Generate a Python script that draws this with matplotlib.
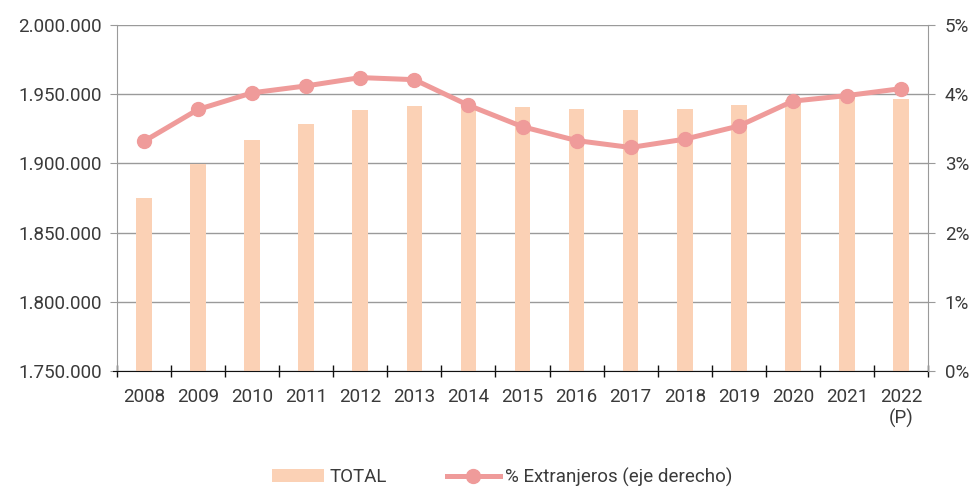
import matplotlib
matplotlib.use("Agg")
import matplotlib.pyplot as plt
from matplotlib.ticker import FuncFormatter, MultipleLocator, FixedLocator

years = ["2008", "2009", "2010", "2011", "2012", "2013", "2014", "2015",
         "2016", "2017", "2018", "2019", "2020", "2021", "2022\n(P)"]
total = [1874900, 1899300, 1916700, 1928500, 1938400, 1941800, 1941500, 1940800,
         1939100, 1938900, 1939300, 1942000, 1945700, 1948600, 1946400]
pct_extranjeros = [3.32, 3.78, 4.02, 4.12, 4.24, 4.21, 3.84, 3.53,
                   3.33, 3.23, 3.35, 3.54, 3.90, 3.98, 4.08]

plt.rcParams['font.family'] = ['Roboto', 'DejaVu Sans']
plt.rcParams['font.weight'] = 'normal'
text_color = "#3a3a3a"
grid_color = "#9a9a9a"
bar_color = "#FBD1B5"
line_color = "#EF9B9A"
fs = 13.5

fig = plt.figure(figsize=(9.75, 4.87), dpi=100)
ax = fig.add_axes([117/975, 1 - 371/487, (928-117)/975, (371-25)/487])
x = list(range(len(years)))
ax.bar(x, total, width=0.29, color=bar_color, zorder=2, label="TOTAL")
ax.set_ylim(1750000, 2000000)
ax.set_xlim(-0.5, len(years) - 0.5)
ax.yaxis.set_major_locator(MultipleLocator(50000))
ax.yaxis.set_major_formatter(FuncFormatter(lambda v, p: f"{int(v):,}".replace(",", ".")))
ax.grid(axis="y", color=grid_color, linewidth=1.0, zorder=0)
ax.set_axisbelow(True)
ax.set_xticks(x)
ax.set_xticklabels(years)
ax.xaxis.set_minor_locator(FixedLocator([i - 0.5 for i in range(len(years) + 1)]))
ax.spines["top"].set_visible(False)
ax.spines["right"].set_visible(False)
ax.spines["left"].set_color(grid_color)
ax.spines["bottom"].set_color("#111111")
ax.spines["bottom"].set_bounds(-0.58, len(years) - 0.5)
ax.spines["bottom"].set_zorder(5)
ax.tick_params(axis="y", color=grid_color, length=5, pad=6, labelcolor=text_color, labelsize=fs)
ax.tick_params(axis="x", which="major", length=0, labelcolor=text_color, labelsize=fs, pad=12)
ax.tick_params(axis="x", which="minor", length=8.5, direction="inout", color="#111111", width=1)

ax2 = ax.twinx()
ax2.plot(x, pct_extranjeros, color=line_color, linewidth=3.6, marker="o",
         markersize=10, zorder=3, label="% Extranjeros (eje derecho)")
ax2.set_ylim(0, 5)
ax2.yaxis.set_major_locator(MultipleLocator(1))
ax2.yaxis.set_major_formatter(FuncFormatter(lambda v, p: f"{int(v)}%"))
ax2.spines["top"].set_visible(False)
ax2.spines["left"].set_visible(False)
ax2.spines["bottom"].set_visible(False)
ax2.spines["right"].set_color(grid_color)
ax2.tick_params(axis="y", color=grid_color, length=5, pad=7, labelcolor=text_color, labelsize=fs)

h1, l1 = ax.get_legend_handles_labels()
h2, l2 = ax2.get_legend_handles_labels()
fig.legend(h1 + h2, l1 + l2, loc="center", bbox_to_anchor=(0.515, 1 - 477/487),
           ncol=2, frameon=False, fontsize=fs, labelcolor=text_color,
           handlelength=2.8, handletextpad=0.3, columnspacing=3.2)

fig.savefig("out.png", dpi=100)
